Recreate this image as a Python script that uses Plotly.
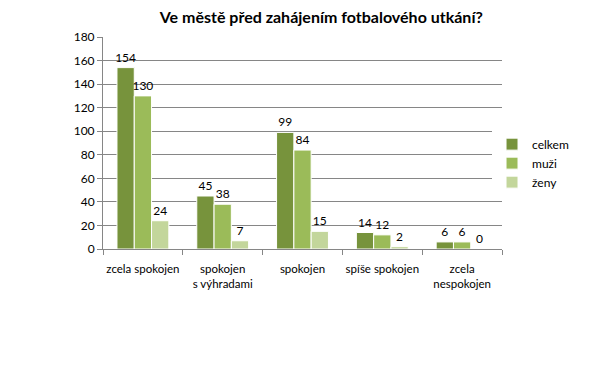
import plotly.graph_objects as go

categories = ["zcela spokojen", "spokojen<br>s výhradami", "spokojen", "spíše spokojen", "zcela<br>nespokojen"]
celkem = [154, 45, 99, 14, 6]
muzi = [130, 38, 84, 12, 6]
zeny = [24, 7, 15, 2, 0]
series_names = ["celkem", "muži", "ženy"]
colors = ["#77933C", "#9BBB59", "#C3D69B"]

FONT = "Lato"

fig = go.Figure()
for name, vals, col in zip(series_names, [celkem, muzi, zeny], colors):
    fig.add_trace(go.Bar(
        x=categories, y=vals, name=name,
        marker=dict(color=col, line=dict(color="white", width=1)),
        text=[str(v) for v in vals], textposition="outside",
        textfont=dict(size=12, color="#000000", family=FONT),
        constraintext="none",
        cliponaxis=False,
    ))

fig.update_layout(
    width=606, height=384,
    margin=dict(l=95, r=112, t=29, b=143, autoexpand=False),
    paper_bgcolor="white", plot_bgcolor="white",
    barmode="group", bargap=0.35, bargroupgap=0,
    font=dict(family=FONT, size=12, color="#000000"),
    title=dict(text="<b>Ve městě před zahájením fotbalového utkání?</b>",
               x=0.517, xanchor="center", y=0.975, yanchor="middle",
               font=dict(size=16, color="#000000", family=FONT)),
    legend=dict(x=0.975, y=0.405, xanchor="left", yanchor="middle",
                font=dict(size=12), itemwidth=30, traceorder="normal",
                tracegroupgap=8),
    showlegend=True,
)
fig.update_xaxes(
    showline=True, linecolor="#868686", linewidth=1,
    ticks="outside", ticklen=5, tickcolor="#868686", tickson="boundaries",
    tickfont=dict(size=11.5), showgrid=False, tickangle=0, automargin=False,
    ticklabelstandoff=9,
)
fig.update_yaxes(
    range=[0, 180], dtick=20, showgrid=True, gridcolor="#868686", gridwidth=1,
    showline=True, linecolor="#868686", linewidth=1, zeroline=False,
    ticks="outside", ticklen=5, tickcolor="#868686",
    tickfont=dict(size=12), automargin=False,
)
fig.write_html("out.html")
